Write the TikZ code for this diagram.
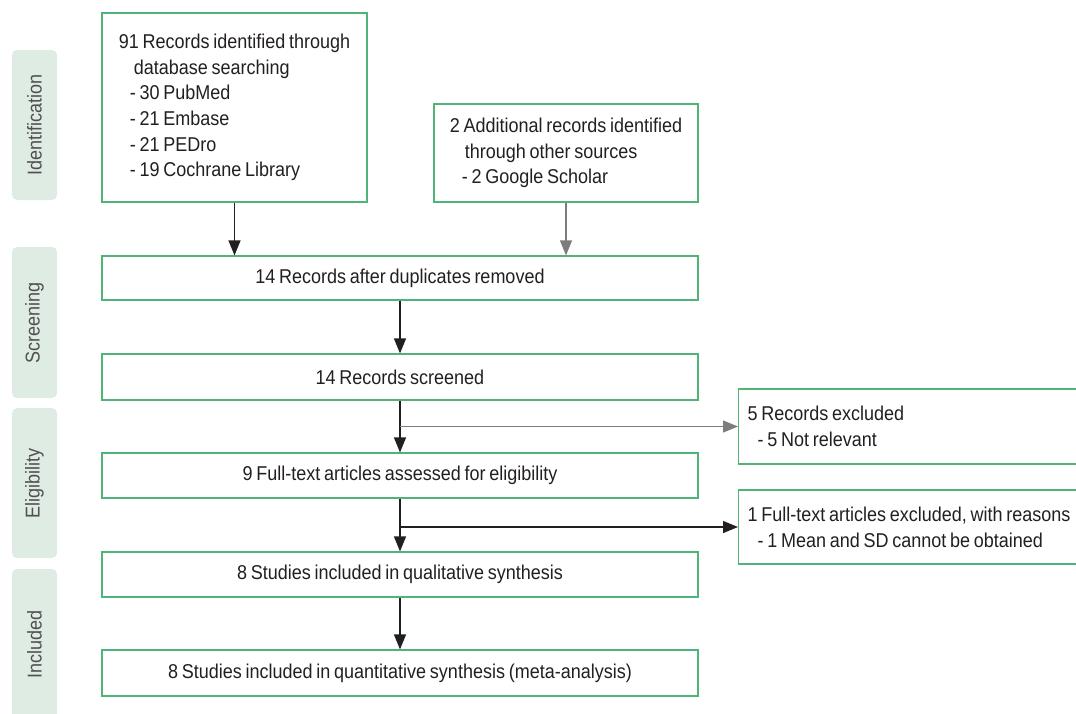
\documentclass[tikz,border=0pt]{standalone}
\usepackage{fontspec}
\setmainfont{Liberation Sans}[FakeStretch=0.9,WordSpace=0.75]
\usetikzlibrary{arrows.meta}
\definecolor{boxgreen}{RGB}{80,180,120}
\definecolor{phasefill}{RGB}{223,236,227}
\definecolor{phasetext}{RGB}{80,80,80}
\definecolor{inkdark}{RGB}{35,31,32}
\definecolor{inkgrey}{RGB}{125,125,125}
\begin{document}
\begin{tikzpicture}[x=1pt,y=-1pt,
    box/.style={draw=boxgreen,line width=1.2pt,inner sep=0pt,text=inkdark,font=\fontsize{20}{25.7}\selectfont},
    wide/.style={box,minimum width=596pt,minimum height=45pt,align=center},
    exbox/.style={box,text width=345pt,inner xsep=9pt,align=flush left,anchor=west},
    phase/.style={fill=phasefill,rounded corners=5pt,rotate=90,minimum height=45pt,text=phasetext,font=\fontsize{20}{22}\selectfont},
    arr/.style={-{Triangle[length=15pt,width=12pt]},line width=1.2pt,draw=inkdark}]
    \clip (0,0) rectangle (1076,713);
    % phases on the left
    \node[phase,minimum width=150pt] (ident) at (34.5,125) {Identification};
    \node[phase,minimum width=151pt] (screen) at (34.5,322.5) {Screening};
    \node[phase,minimum width=150pt] (elig) at (34.5,483) {Eligibility};
    \node[phase,minimum width=151pt] (incl) at (34.5,644.5) {Included};
    % boxes
    \node[box,minimum width=265pt,minimum height=189pt,align=left] (rec) at (234.5,107.5)
        {91 Records identified through\\\hspace*{15pt}database searching\\\hspace*{11pt}- 30 PubMed\\\hspace*{11pt}- 21 Embase\\\hspace*{11pt}- 21 PEDro\\\hspace*{11pt}- 19 Cochrane Library};
    \node[box,minimum width=264pt,minimum height=98pt,align=left] (add) at (566,153)
        {2 Additional records identified\\\hspace*{15pt}through other sources\\\hspace*{12pt}- 2 Google Scholar};
    \node[wide,minimum height=44pt] (dup) at (400,278) {14 Records after duplicates removed};
    \node[wide,minimum height=46pt] (scr) at (400,377) {14 Records screened};
    \node[wide] (full) at (400,475.5) {9 Full-text articles assessed for eligibility};
    \node[wide] (qual) at (400,574.5) {8 Studies included in qualitative synthesis};
    \node[wide,minimum height=46pt] (quan) at (400,673) {8 Studies included in quantitative synthesis (meta-analysis)};
    \node[exbox,minimum height=75pt] (exc1) at (738,426.5) {5 Records excluded\\\hspace*{10pt}- 5 Not relevant};
    \node[exbox,minimum height=74pt] (exc2) at (738,527) {1 Full-text articles excluded, with reasons\\\hspace*{10pt}- 1 Mean and SD cannot be obtained};
    % connectors
    \draw[arr] (rec.south) -- (rec.south |- dup.north);
    \draw[arr,draw=inkgrey] (add.south) -- (add.south |- dup.north);
    \draw[arr] (dup) -- (scr);
    \draw[arr] (scr) -- (full);
    \draw[arr,draw=inkgrey] (scr.south |- exc1.west) -- (exc1.west);
    \draw[arr] (full) -- (qual);
    \draw[arr] (full.south |- exc2.west) -- (exc2.west);
    \draw[arr] (qual) -- (quan);
\end{tikzpicture}
\end{document}
